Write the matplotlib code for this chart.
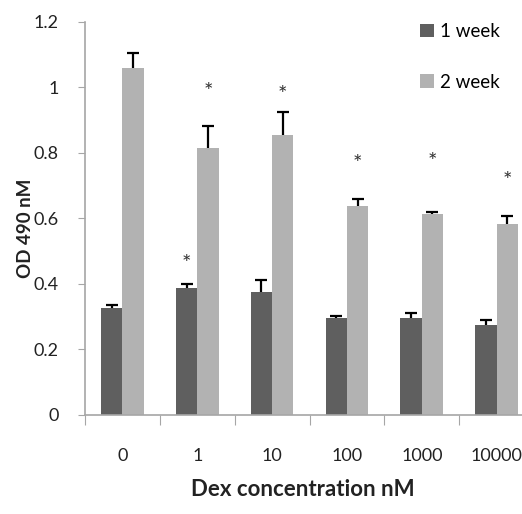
import matplotlib
matplotlib.use("Agg")
import matplotlib.pyplot as plt
import numpy as np

plt.rcParams["font.family"] = ["Lato", "DejaVu Sans"]

concentrations = ["0", "1", "10", "100", "1000", "10000"]
week1 = [0.325, 0.388, 0.374, 0.295, 0.295, 0.275]
week1_err = [0.009, 0.012, 0.036, 0.007, 0.016, 0.013]
week2 = [1.059, 0.814, 0.853, 0.638, 0.614, 0.582]
week2_err = [0.045, 0.068, 0.071, 0.021, 0.006, 0.026]
# significance stars: category index -> y
stars_w1 = {1: 0.46}
stars_w2 = {1: 0.985, 2: 0.975, 3: 0.765, 4: 0.77, 5: 0.715}

dark = "#5f5f5f"
light = "#b2b2b2"
axis_gray = "#a6a6a6"

fig = plt.figure(figsize=(5.22, 5.14), dpi=100)
ax = fig.add_axes([0.163, 0.193, 0.86, 0.765])

x = np.arange(len(concentrations))
w = 0.285
ax.bar(x - w / 2, week1, w, color=dark, label="1 week", zorder=2)
ax.bar(x + w / 2, week2, w, color=light, label="2 week", zorder=2)
err_kw = dict(fmt="none", ecolor="black", elinewidth=1.6, capsize=4, capthick=1.6, zorder=3)
for xs, vals, errs in [(x - w / 2, week1, week1_err), (x + w / 2, week2, week2_err)]:
    eb = ax.errorbar(xs, vals, yerr=[np.zeros(len(x)), errs], **err_kw)
    eb[1][0].set_visible(False)  # hide lower caps, keep upper only

for i, y in stars_w1.items():
    ax.text(x[i] - w / 2, y, "*", ha="center", va="center", fontsize=16, color="#333333")
for i, y in stars_w2.items():
    ax.text(x[i] + w / 2, y, "*", ha="center", va="center", fontsize=16, color="#333333")

ax.set_xlim(-0.5, 5.5)
ax.set_ylim(0, 1.2)
ax.set_yticks([0, 0.2, 0.4, 0.6, 0.8, 1.0, 1.2])
ax.set_yticklabels(["0", "0.2", "0.4", "0.6", "0.8", "1", "1.2"], fontsize=13, color="#222222")
ax.set_xticks(np.arange(-0.5, 5.6, 1.0))
ax.set_xticklabels([])
ax.set_xticks(x, minor=True)
ax.set_xticklabels(concentrations, minor=True, fontsize=13, color="#222222")
ax.tick_params(axis="x", which="major", length=7, color=axis_gray, direction="out")
ax.tick_params(axis="x", which="minor", length=0, pad=24)
ax.tick_params(axis="y", length=5, color=axis_gray, pad=14)

for s in ["top", "right"]:
    ax.spines[s].set_visible(False)
for s in ["left", "bottom"]:
    ax.spines[s].set_color(axis_gray)
    ax.spines[s].set_linewidth(1.2)

fig.text(0.048, 0.555, "OD 490 nM", rotation=90, ha="center", va="center",
         fontsize=13.5, fontweight="bold", color="#222222")
fig.text(0.58, 0.047, "Dex concentration nM", ha="center", va="center",
         fontsize=16, fontweight="bold", color="#222222")

fig.legend(loc="upper left", bbox_to_anchor=(0.772, 0.988), frameon=False,
           fontsize=13.5, labelspacing=1.8, handlelength=0.75, handleheight=0.75,
           handletextpad=0.3)

fig.savefig("out.png", dpi=100)
